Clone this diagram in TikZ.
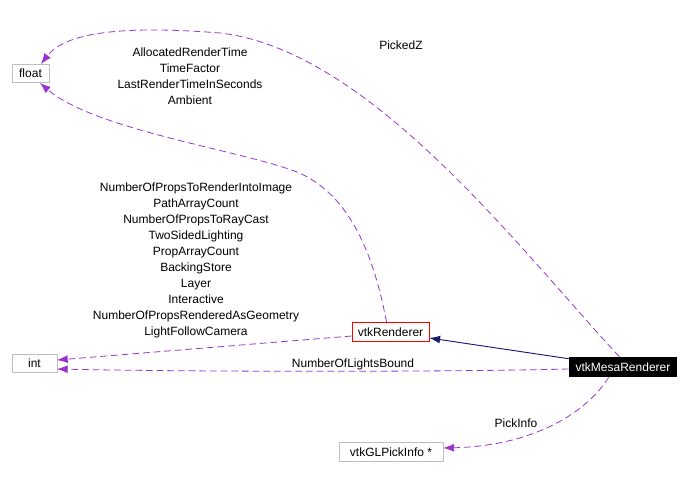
\documentclass[tikz,border=0pt]{standalone}
\usepackage{fontspec}
\setmainfont{Liberation Sans}
\usetikzlibrary{arrows.meta}
\definecolor{edgepurple}{HTML}{9A32CD}
\definecolor{edgenavy}{HTML}{191970}
\definecolor{boxgray}{HTML}{BFBFBF}
\begin{document}
\begin{tikzpicture}[x=0.75pt,y=-0.75pt,
  every node/.style={font=\fontsize{9pt}{12pt}\selectfont, inner sep=0pt},
  cls/.style={draw=boxgray, line width=0.6pt, fill=white, minimum height=14pt, inner xsep=4pt},
  focus/.style={draw=red, line width=0.6pt, fill=white, minimum height=14.5pt, inner xsep=4pt},
  main/.style={fill=black, text=white, minimum height=15pt, inner xsep=5pt},
  use/.style={draw=edgepurple, line width=0.6pt, dash pattern=on 5pt off 3pt, -{Latex[length=8pt,width=6pt]}},
  inh/.style={draw=edgenavy, line width=0.7pt, -{Latex[length=8pt,width=6pt]}},
  lbl/.style={align=center}
]
\useasboundingbox (0,0) rectangle (690,478);

\node[cls, minimum width=37*0.75pt] (float) at (30.5,73.5) {float};
\node[cls, minimum width=45*0.75pt] (int) at (34.5,363.5) {int};
\node[focus, minimum width=77*0.75pt] (ren) at (390.5,332) {vtkRenderer};
\node[main, minimum width=108*0.75pt] (mesa) at (623,367) {vtkMesaRenderer};
\node[cls, minimum width=104*0.75pt] (pick) at (391,452) {vtkGLPickInfo *};

\coordinate (fltop) at (41,64);
\coordinate (flbot) at (40,83);

% inheritance
\draw[inh] (mesa.north west) ++(0,2) -- (ren.east |- 0,338);

% PickedZ
\draw[use] ([xshift=38pt]mesa.north west) .. controls (520,250) and (370,50) .. (220,33)
   .. controls (120,25) and (65,33) .. (fltop);
\node[lbl] (lPickedZ) at (401,45) {PickedZ};

% vtkRenderer -> float
\draw[use] ([xshift=-3pt]ren.north) .. controls (372,245) and (345,192) .. (297,172)
   .. controls (240,150) and (95,130) .. (flbot);
\node[lbl] (lfloat) at (190,76) {AllocatedRenderTime\\TimeFactor\\LastRenderTimeInSeconds\\Ambient};

% vtkRenderer -> int
\draw[use] (ren.west |- 0,336) -- (57,360);
\node[lbl] (lint) at (196,260) {NumberOfPropsToRenderIntoImage\\PathArrayCount\\NumberOfPropsToRayCast\\TwoSidedLighting\\PropArrayCount\\BackingStore\\Layer\\Interactive\\NumberOfPropsRenderedAsGeometry\\LightFollowCamera};

% vtkMesaRenderer -> int
\draw[use] (mesa.west |- 0,369) .. controls (450,372) and (200,372) .. (57,369);
\node[lbl] (lnolb) at (353,364) {NumberOfLightsBound};

% vtkMesaRenderer -> vtkGLPickInfo
\draw[use] ([xshift=30pt]mesa.south west) .. controls (585,415) and (530,446) .. (pick.east |- 0,448);
\node[lbl] (lpick) at (516,423) {PickInfo};
\end{tikzpicture}
\end{document}
